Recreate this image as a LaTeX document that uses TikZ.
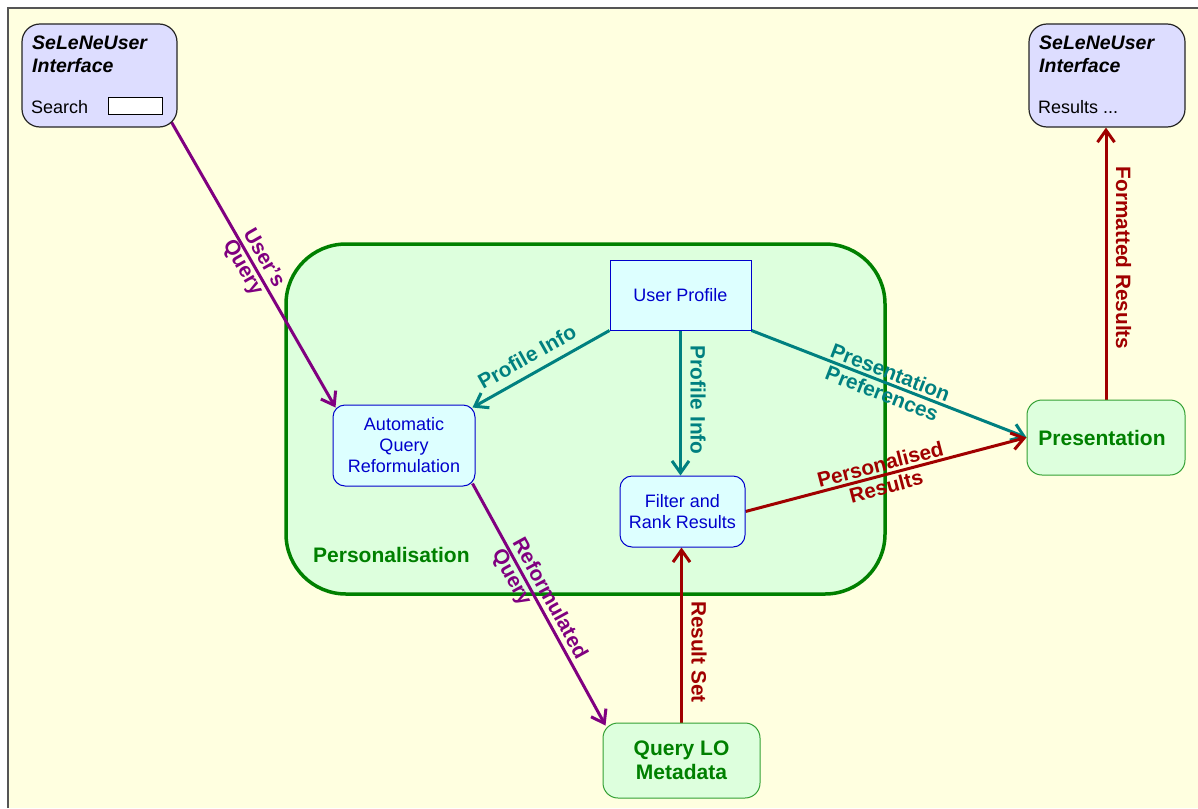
\documentclass[tikz,border=0pt]{standalone}
\usepackage{fontspec}
\setmainfont{Liberation Sans}
\usetikzlibrary{arrows.meta,calc}

\definecolor{paper}{HTML}{FFFFE0}
\definecolor{uifill}{HTML}{DDDDFF}
\definecolor{persfill}{HTML}{DDFFDD}
\definecolor{procfill}{HTML}{DDFFFF}
\definecolor{persgreen}{HTML}{008000}
\definecolor{endgreen}{HTML}{33A033}
\definecolor{procblue}{HTML}{0000CC}
\definecolor{qpurple}{HTML}{800080}
\definecolor{pteal}{HTML}{008080}
\definecolor{rdark}{HTML}{A00000}
\definecolor{framegray}{HTML}{555555}

\newcommand{\dgmNormal}{\fontsize{18pt}{21pt}\selectfont}
\newcommand{\dgmLabel}{\fontsize{20.8pt}{23pt}\selectfont\bfseries}
\newcommand{\dgmBox}{\fontsize{21pt}{24.5pt}\selectfont\bfseries}
\newcommand{\dgmTitle}{\fontsize{19.5pt}{22pt}\selectfont\bfseries\itshape}

\pgfdeclarelayer{paperlayer}
\pgfdeclarelayer{edgelayer}
\pgfsetlayers{paperlayer,edgelayer,main}

\tikzset{
  uibox/.style={draw=black!85, line width=1.2pt, fill=uifill,
    rounded corners=18pt, inner sep=0pt},
  uitext/.style={anchor=base west, inner sep=0pt, font=\dgmNormal},
  uititle/.style={anchor=base west, inner sep=0pt, font=\dgmTitle},
  procbox/.style={draw=procblue, line width=1pt, fill=procfill, inner sep=0pt,
    font=\dgmNormal, text=procblue, align=center},
  endbox/.style={draw=endgreen, line width=1pt, fill=persfill, rounded corners=15pt,
    inner sep=0pt, font=\dgmBox, text=persgreen, align=center},
  container/.style={draw=persgreen, line width=3.5pt, fill=persfill,
    rounded corners=60pt, inner sep=0pt},
  flow/.style={line width=3pt, -{Straight Barb[length=12pt,width=17pt]}},
  lab/.style={font=\dgmLabel, inner sep=0pt},
  sidelab/.style={lab, anchor=south, inner ysep=8.5pt, inner xsep=0pt},
}

\begin{document}
\begin{tikzpicture}[x=1pt, y=-1pt]
\useasboundingbox (0,0) rectangle (1198,808);

% paper and frame
\begin{pgfonlayer}{paperlayer}
  \fill[paper] (8,8) rectangle (1198,808);
  \draw[framegray, line width=2pt] (8,808) -- (8,8) -- (1198,8);
  \node[container, minimum width=599pt, minimum height=350pt] (pers) at (585.5,419) {};
\end{pgfonlayer}

\node[anchor=base west, inner sep=0pt, font=\dgmBox, text=persgreen] (perslab) at (313,562) {Personalisation};

% user interface, query side
\node[uibox, minimum width=155pt, minimum height=103pt] (ui1) at (99.5,75.5) {};
\node[uititle] (ui1a) at (32,50) {SeLeNeUser};
\node[uititle] (ui1b) at (32,72) {Interface};
\node[uitext] (ui1c) at (31,113) {Search};
\node[draw, fill=white, line width=1pt, inner sep=0pt, minimum width=54pt, minimum height=17pt] (srch) at (135,105.5) {};

% user interface, results side
\node[uibox, minimum width=156pt, minimum height=103pt] (ui2) at (1107,75.5) {};
\node[uititle] (ui2a) at (1039,50) {SeLeNeUser};
\node[uititle] (ui2b) at (1039,72) {Interface};
\node[uitext] (ui2c) at (1038,113) {Results ...};

% processing steps
\node[procbox, minimum width=141pt, minimum height=70pt] (up) at (680.5,295) {User Profile};
\node[procbox, rounded corners=12pt, minimum width=142pt, minimum height=81pt] (aqr) at (404,445.5) {Automatic\\Query\\Reformulation};
\node[procbox, rounded corners=12pt, minimum width=125pt, minimum height=71pt] (frr) at (682.5,511.5) {Filter and\\Rank Results};
\node[endbox, minimum width=158pt, minimum height=75pt] (pres) at (1106,437.5) {\hspace*{-8pt}Presentation};
\node[endbox, minimum width=157pt, minimum height=75pt] (qlo) at (681.5,760.5) {Query LO\\Metadata};

% connectors
\begin{pgfonlayer}{edgelayer}
  \draw[flow, qpurple] ($(ui1.south east)+(-7,-7)$) --
    node[lab, sloped, align=left, text=qpurple, pos=0.5] (l1) {User's\\Query}
    ($(aqr.north west)+(3,3)$);
  \draw[flow, qpurple] ($(aqr.south east)+(-3,-3)$) --
    node[lab, sloped, align=left, text=qpurple, pos=0.5] (l2) {Reformulated\\Query}
    ($(qlo.north west)+(3,3)$);
  \draw[flow, pteal] (up.south west) --
    node[sidelab, sloped, text=pteal, pos=0.54] (l3) {Profile Info}
    ($(aqr.north east)+(-3,3)$);
  \draw[flow, pteal] (up.south) --
    node[sidelab, rotate=-90, text=pteal, pos=0.48] (l4) {Profile Info}
    (up.south |- frr.north);
  \draw[flow, pteal] (up.south east) --
    node[lab, sloped, align=center, text=pteal, pos=0.49] (l5) {Presentation\\Preferences}
    (pres.west);
  \draw[flow, rdark] (frr.east) --
    node[lab, sloped, align=center, text=rdark, pos=0.49] (l6) {Personalised\\Results}
    (pres.west);
  \draw[flow, rdark] (qlo.north) --
    node[sidelab, rotate=-90, text=rdark, pos=0.403] (l7) {Result Set}
    (qlo.north |- frr.south);
  \draw[flow, rdark] (pres.north) --
    node[sidelab, rotate=-90, text=rdark, pos=0.52] (l8) {Formatted Results}
    (pres.north |- ui2.south);
\end{pgfonlayer}
\end{tikzpicture}
\end{document}
